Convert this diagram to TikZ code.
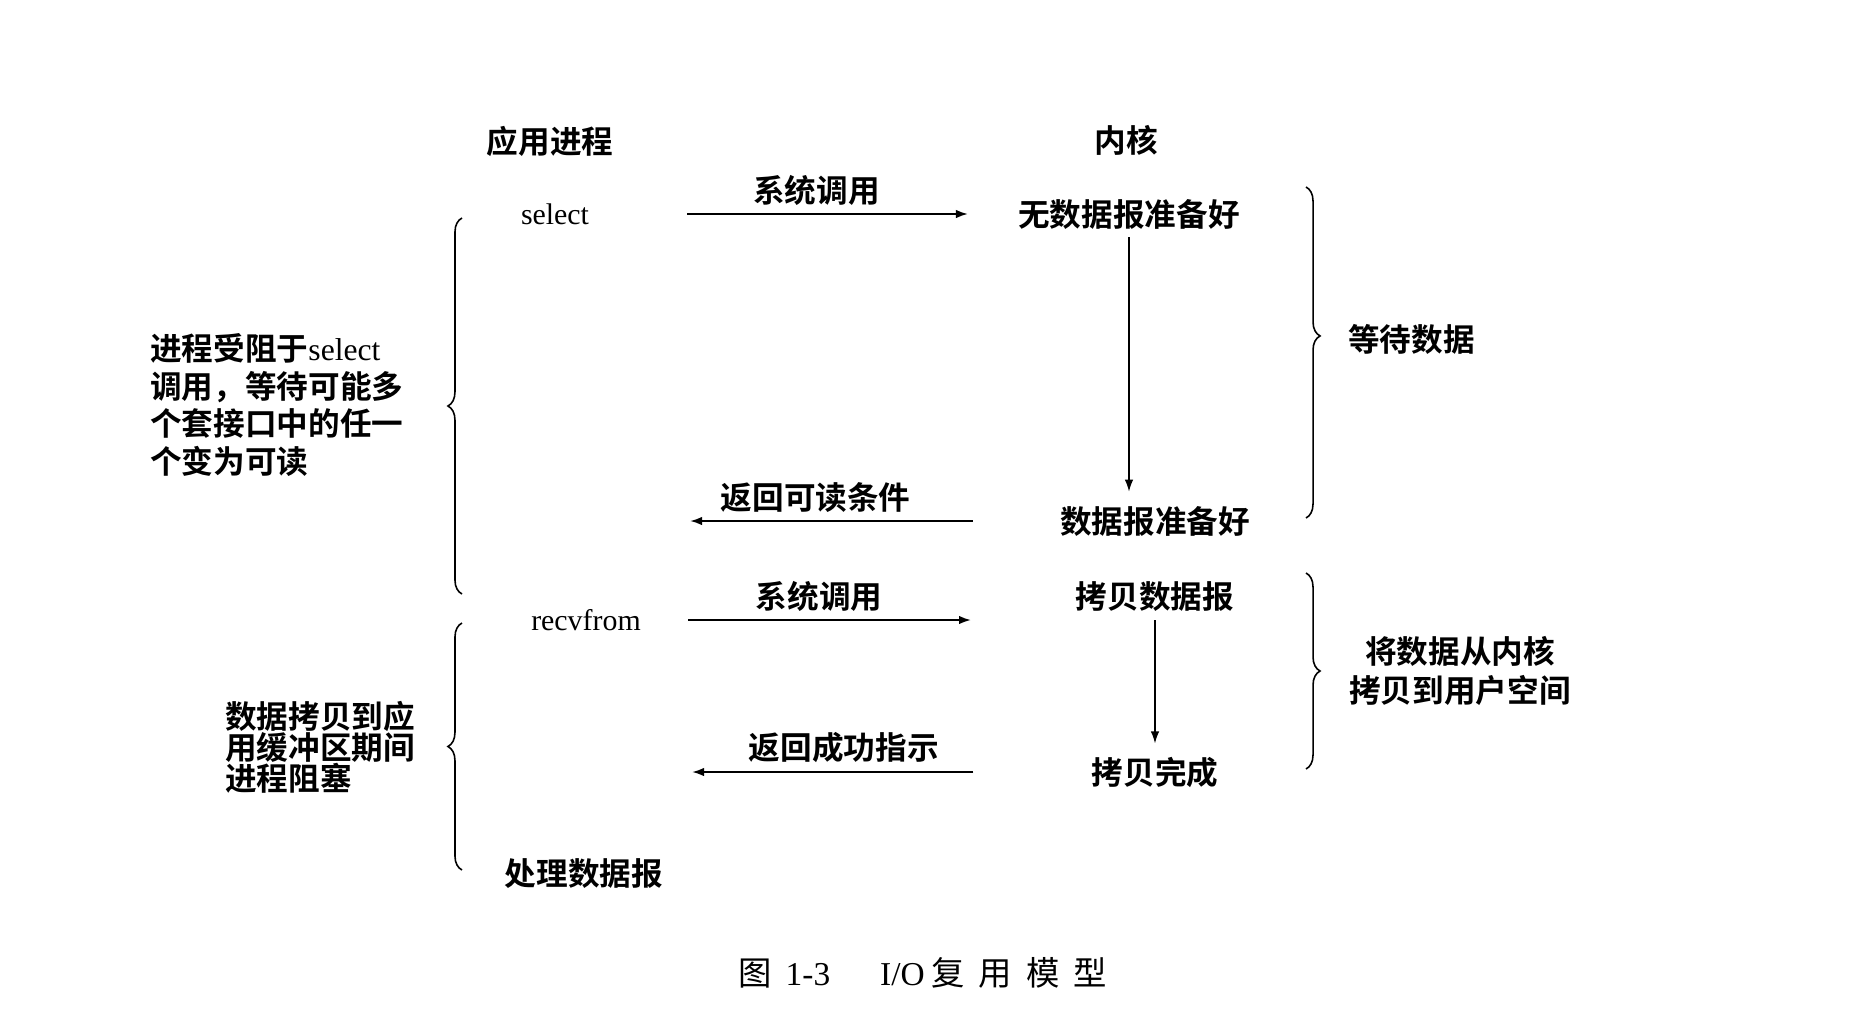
\documentclass[tikz,border=0pt]{standalone}
\usepackage{fontspec}
\setmainfont{Liberation Serif}
\newfontfamily\cjk{Noto Sans CJK SC Bold}
\newfontfamily\cjkcap[LetterSpace=42]{Noto Sans CJK SC}
\usetikzlibrary{arrows.meta, positioning, decorations.pathreplacing}
\tikzset{
  lbl/.style={font=\cjk\fontsize{18}{22}\selectfont, inner sep=0pt},
  cmd/.style={font=\fontsize{17}{20}\selectfont, inner sep=0pt},
  msg/.style={->, line width=1.1pt},
  wait/.style={->, line width=0.8pt},
  brc/.style={decorate, decoration={brace, amplitude=8pt}, line width=0.9pt},
}

\begin{document}
\begin{tikzpicture}[x=0.02cm, y=-0.02cm, >={Latex[length=2.4mm,width=1.7mm]}]
  \useasboundingbox (0,0) rectangle (1856,1018);
  % column heads
  \node[lbl] (apphead) at (550,141) {应用进程};
  \node[lbl] (kerhead) at (1126,140) {内核};
  % application side
  \node[cmd] (select) at (555,214) {select};
  \node[cmd] (recvfrom) at (586,620) {recvfrom};
  \node[lbl] (process) at (584,874) {处理数据报};
  % kernel side
  \node[lbl] (nodata) at (1129,214) {无数据报准备好};
  \node[lbl] (ready) at (1155,521) {数据报准备好};
  \node[lbl] (copy) at (1155,597) {拷贝数据报};
  \node[lbl] (done) at (1155,772) {拷贝完成};
  \coordinate (kin) at (971,620);
  \coordinate (back1) at (690,521);
  \coordinate (back2) at (692,772);
  % calls and returns
  \draw[msg, shorten <=1.96cm, shorten >=1.0cm] (select.east) -- (nodata.west)
    node[lbl, pos=0.53, above=4.5pt] (call1) {系统调用};
  \draw[msg, shorten <=1.74cm] (ready.west) -- (back1)
    node[lbl, pos=0.66, above=4.5pt] (ret1) {返回可读条件};
  \draw[msg, shorten <=0.94cm] (recvfrom.east) -- (kin)
    node[lbl, pos=0.54, above=4.5pt] (call2) {系统调用};
  \draw[msg, shorten <=2.36cm] (done.west) -- (back2)
    node[lbl, pos=0.62, above=4.5pt] (ret2) {返回成功指示};
  % kernel progress
  \draw[wait, shorten <=0.16cm, shorten >=0.28cm] (nodata.south) -- (nodata.south |- ready.north);
  \draw[wait, shorten <=0.16cm, shorten >=0.26cm] (copy.south) -- (done.north);
  % braces, left
  \draw[brc] (462,594) -- (462,218);
  \draw[brc] (462,870) -- (462,623);
  \node[lbl, anchor=west, align=left, font=\cjk\fontsize{18}{21.6}\selectfont] (blocked) at (150,405)
    {进程受阻于{\rmfamily select}\\调用，等待可能多\\个套接口中的任一\\个变为可读};
  \node[lbl, anchor=west, align=left, font=\cjk\fontsize{18}{17.6}\selectfont] (copying) at (225,747)
    {数据拷贝到应\\用缓冲区期间\\进程阻塞};
  % braces, right
  \draw[brc, decoration={aspect=0.45}] (1306,187) -- (1306,518);
  \draw[brc] (1306,573) -- (1306,769);
  \node[lbl, anchor=west] (waitdata) at (1348,339) {等待数据};
  \node[lbl, align=center] (tocopy) at (1460,671) {将数据从内核\\拷贝到用户空间};
  % caption
  \node[font=\fontsize{19}{22}\selectfont, inner sep=0pt] (caption) at (923,973)
    {{\cjkcap 图}\hspace{0.4em}1-3\hspace{1.5em}I/O\hspace{0.2em}{\cjkcap 复用模型}};
\end{tikzpicture}
\end{document}
